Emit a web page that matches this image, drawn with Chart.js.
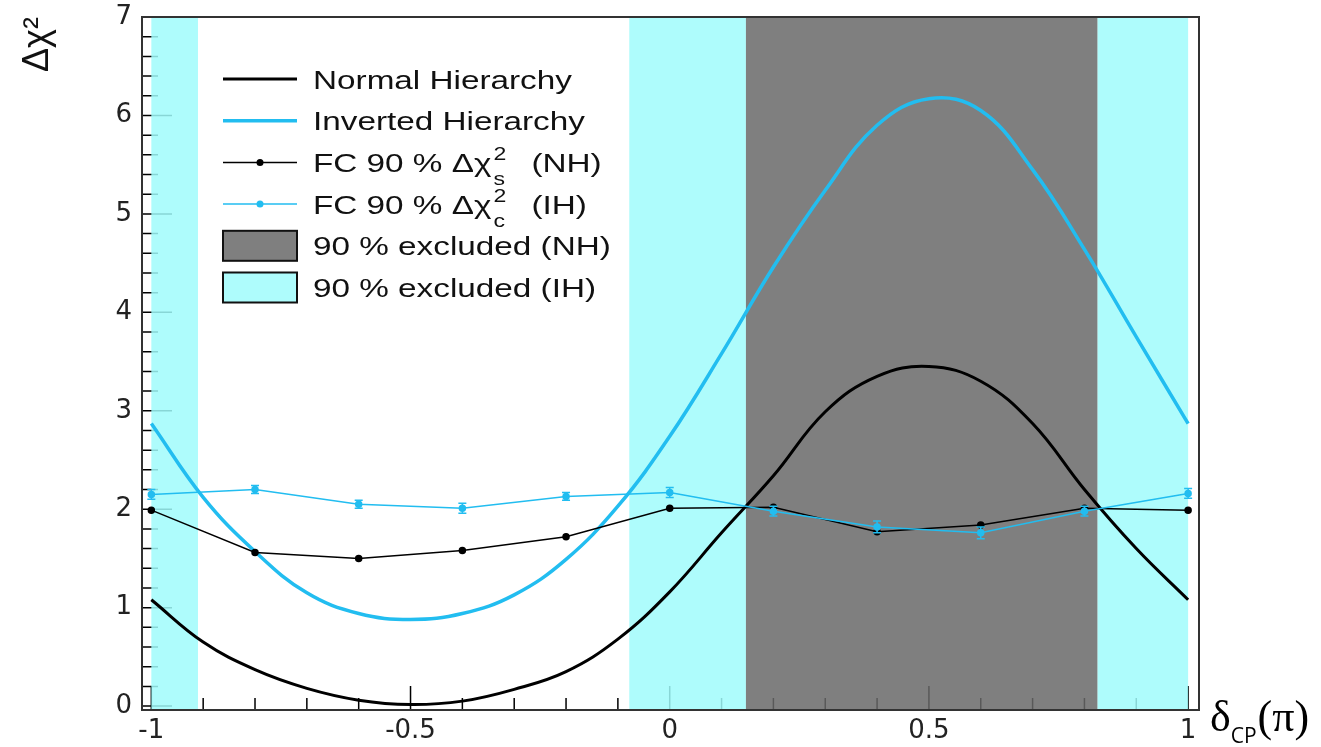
<!DOCTYPE html>
<html>
<head>
<meta charset="utf-8">
<script src="https://cdn.jsdelivr.net/npm/chart.js@4.4.0/dist/chart.umd.min.js"></script>
<style>
  html, body { margin: 0; padding: 0; background: #fff; }
  #wrap { width: 1321px; height: 747px; }
</style>
</head>
<body>
<div id="wrap"><canvas id="grafico" width="1321" height="747"></canvas></div>
<script>
// delta_CP en unidades de pi
const deltaCurva = [-1, -0.9, -0.8, -0.7, -0.6, -0.5, -0.4, -0.3, -0.2, -0.1, 0, 0.1, 0.2, 0.3, 0.4, 0.5, 0.6, 0.7, 0.8, 0.9, 1];
const chi2NH = [1.08, 0.65, 0.37, 0.18, 0.06, 0.015, 0.05, 0.17, 0.35, 0.68, 1.16, 1.76, 2.34, 2.99, 3.35, 3.45, 3.30, 2.87, 2.20, 1.60, 1.08];
const chi2IH = [2.87, 2.12, 1.57, 1.15, 0.94, 0.88, 0.94, 1.13, 1.49, 2.03, 2.74, 3.58, 4.46, 5.24, 5.90, 6.17, 6.05, 5.45, 4.64, 3.75, 2.87];

// puntos Feldman-Cousins
const deltaFC = [-1, -0.8, -0.6, -0.4, -0.2, 0, 0.2, 0.4, 0.6, 0.8, 1];
const fcNH = [1.99, 1.56, 1.50, 1.58, 1.72, 2.01, 2.02, 1.77, 1.84, 2.01, 1.99];
const fcIH = [2.15, 2.20, 2.05, 2.01, 2.13, 2.17, 1.98, 1.82, 1.76, 1.98, 2.16];
const fcIHerr = [0.05, 0.04, 0.04, 0.05, 0.04, 0.05, 0.05, 0.06, 0.06, 0.05, 0.05];

// regiones excluidas al 90 %
const excluidoNH = [[0.147, 0.825]];
const excluidoIH = [[-1, -0.91], [-0.078, 0.147], [0.825, 1]];

const ticksX = [-1, -0.5, 0, 0.5, 1];
const ticksY = [0, 1, 2, 3, 4, 5, 6, 7];
const etiquetasLeyenda = ['Normal Hierarchy', 'Inverted Hierarchy', 'FC 90 % Δχ', 'FC 90 % Δχ', '90 % excluded (NH)', '90 % excluded (IH)'];

const colorIH = '#22bdf0';
const cianBanda = 'rgba(160,252,252,0.85)';
const grisBanda = 'rgba(105,105,105,0.85)';

const aPuntos = (xs, ys) => xs.map((v, i) => ({x: v, y: ys[i]}));

// texto estirado en horizontal, como en la figura original
function textoEstirado(ctx, txt, x, y, size, sx) {
  ctx.save();
  ctx.translate(x, y);
  ctx.scale(sx, 1);
  ctx.font = size + 'px "Liberation Sans"';
  ctx.fillText(txt, 0, 0);
  const w = ctx.measureText(txt).width * sx;
  ctx.restore();
  return w;
}

// marcas hacia adentro y bandas de exclusion
const pluginFondo = {
  id: 'fondo',
  beforeDatasetsDraw(chart) {
    const {ctx, chartArea: a, scales: {x, y}} = chart;
    ctx.save();
    ctx.strokeStyle = '#000';
    ctx.lineWidth = 1.5;
    ctx.beginPath();
    for (let i = -10; i <= 10; i++) {
      const px = x.getPixelForValue(i / 10);
      const len = (i % 5 === 0) ? 24 : 12;
      ctx.moveTo(px, a.bottom);
      ctx.lineTo(px, a.bottom - len);
    }
    for (let i = 0; i <= 35; i++) {
      const py = y.getPixelForValue(i / 5);
      const len = (i % 5 === 0) ? 30 : 16;
      ctx.moveTo(a.left, py);
      ctx.lineTo(a.left + len, py);
    }
    ctx.stroke();

    const banda = (r, color) => {
      const x0 = x.getPixelForValue(r[0]);
      const x1 = x.getPixelForValue(r[1]);
      ctx.fillStyle = color;
      ctx.fillRect(x0, a.top, x1 - x0, a.bottom - a.top);
    };
    excluidoIH.forEach(r => banda(r, cianBanda));
    excluidoNH.forEach(r => banda(r, grisBanda));
    ctx.restore();
  },
  afterDatasetsDraw(chart) {
    const {ctx, chartArea: a, scales: {x, y}} = chart;
    ctx.save();
    // barras de error de los puntos FC (IH)
    ctx.strokeStyle = colorIH;
    ctx.lineWidth = 1.5;
    ctx.beginPath();
    deltaFC.forEach((d, i) => {
      const px = x.getPixelForValue(d);
      const y0 = y.getPixelForValue(fcIH[i] - fcIHerr[i]);
      const y1 = y.getPixelForValue(fcIH[i] + fcIHerr[i]);
      ctx.moveTo(px, y0); ctx.lineTo(px, y1);
      ctx.moveTo(px - 4, y0); ctx.lineTo(px + 4, y0);
      ctx.moveTo(px - 4, y1); ctx.lineTo(px + 4, y1);
    });
    ctx.stroke();
    // marco
    ctx.strokeStyle = '#333';
    ctx.lineWidth = 2;
    ctx.strokeRect(a.left, a.top, a.right - a.left, a.bottom - a.top);
    ctx.restore();
  },
  afterDraw(chart) {
    const {ctx, chartArea: a} = chart;
    ctx.save();
    ctx.fillStyle = '#111';
    ctx.textBaseline = 'alphabetic';
    const mx0 = a.left + 81, mx1 = a.left + 155, tx = a.left + 171;
    const estilos = [
      {tipo: 'linea', color: '#000', ancho: 3},
      {tipo: 'linea', color: colorIH, ancho: 3.5},
      {tipo: 'punto', color: '#000', ancho: 1.5, sup: '2', sub: 's', cola: '(NH)'},
      {tipo: 'punto', color: colorIH, ancho: 1.5, sup: '2', sub: 'c', cola: '(IH)'},
      {tipo: 'caja', color: grisBanda},
      {tipo: 'caja', color: cianBanda}
    ];
    estilos.forEach((e, i) => {
      const ry = a.top + 62 + i * 41.7;
      if (e.tipo === 'caja') {
        ctx.fillStyle = '#fff';
        ctx.fillRect(mx0, ry - 15, mx1 - mx0, 30);
        ctx.fillStyle = e.color;
        ctx.fillRect(mx0, ry - 15, mx1 - mx0, 30);
        ctx.strokeStyle = '#111';
        ctx.lineWidth = 2;
        ctx.strokeRect(mx0, ry - 15, mx1 - mx0, 30);
      } else {
        ctx.strokeStyle = e.color;
        ctx.lineWidth = e.ancho;
        ctx.beginPath();
        ctx.moveTo(mx0, ry); ctx.lineTo(mx1, ry);
        ctx.stroke();
        if (e.tipo === 'punto') {
          ctx.fillStyle = e.color;
          ctx.beginPath();
          ctx.arc((mx0 + mx1) / 2, ry, 3.5, 0, Math.PI * 2);
          ctx.fill();
        }
      }
      ctx.fillStyle = '#111';
      const w = textoEstirado(ctx, etiquetasLeyenda[i], tx, ry + 9.5, 26, 1.28);
      if (e.sup) {
        const sx = tx + w + 2;
        textoEstirado(ctx, e.sup, sx, ry - 2, 18, 1.28);
        textoEstirado(ctx, e.sub, sx, ry + 23, 18, 1.28);
        textoEstirado(ctx, e.cola, sx + 38, ry + 9.5, 26, 1.28);
      }
    });

    // titulo del eje x a la derecha del marco
    ctx.fillStyle = '#000';
    let px = a.right + 11;
    ctx.font = '44px "Liberation Serif"';
    ctx.fillText('δ', px, 731);
    px += ctx.measureText('δ').width;
    ctx.font = '21px "Open Sans"';
    ctx.fillText('CP', px, 743);
    px += ctx.measureText('CP').width + 1;
    ctx.font = '44px "Liberation Serif"';
    ctx.fillText('(π)', px, 731);
    ctx.restore();
  }
};

const fuenteTicks = {family: 'DejaVu Sans', size: 26};

// sin relleno extra de las escalas: el area del grafico la fija layout.padding
const sinRelleno = s => { s.paddingTop = 0; s.paddingBottom = 0; s.paddingLeft = 0; s.paddingRight = 0; };

const grafico = new Chart(document.getElementById('grafico'), {
  type: 'line',
  data: {
    datasets: [
      {
        label: 'FC IH',
        data: aPuntos(deltaFC, fcIH),
        borderColor: colorIH,
        backgroundColor: colorIH,
        borderWidth: 1.5,
        pointRadius: 3,
        tension: 0,
        order: 0
      },
      {
        label: 'FC NH',
        data: aPuntos(deltaFC, fcNH),
        borderColor: '#000',
        backgroundColor: '#000',
        borderWidth: 1.5,
        pointRadius: 3,
        tension: 0,
        order: 1
      },
      {
        label: 'Inverted Hierarchy',
        data: aPuntos(deltaCurva, chi2IH),
        borderColor: colorIH,
        borderWidth: 3.5,
        pointRadius: 0,
        tension: 0.4,
        order: 2
      },
      {
        label: 'Normal Hierarchy',
        data: aPuntos(deltaCurva, chi2NH),
        borderColor: '#000',
        borderWidth: 3,
        pointRadius: 0,
        tension: 0.4,
        order: 3
      }
    ]
  },
  options: {
    responsive: false,
    animation: false,
    layout: {padding: {top: 17, right: 122, left: 0, bottom: 0}},
    plugins: {legend: {display: false}, tooltip: {enabled: false}},
    scales: {
      x: {
        type: 'linear',
        min: -1.018,
        max: 1.021,
        afterBuildTicks: s => { s.ticks = ticksX.map(v => ({value: v})); },
        afterFit: s => { s.height = 37; sinRelleno(s); },
        grid: {display: false, drawTicks: false},
        border: {display: false},
        ticks: {font: fuenteTicks, color: '#222', padding: 6, maxRotation: 0, autoSkip: false, callback: v => String(v)}
      },
      y: {
        type: 'linear',
        min: -0.04,
        max: 7.0,
        afterBuildTicks: s => { s.ticks = ticksY.map(v => ({value: v})); },
        afterFit: s => { s.width = 142; sinRelleno(s); },
        grid: {display: false, drawTicks: false},
        border: {display: false},
        ticks: {font: fuenteTicks, color: '#222', padding: 10, callback: v => String(v)},
        title: {
          display: true,
          text: 'Δχ²',
          align: 'end',
          color: '#111',
          font: {family: 'Liberation Sans', size: 36},
          padding: {top: 16, bottom: 0}
        }
      }
    }
  },
  plugins: [pluginFondo]
});
</script>
</body>
</html>
